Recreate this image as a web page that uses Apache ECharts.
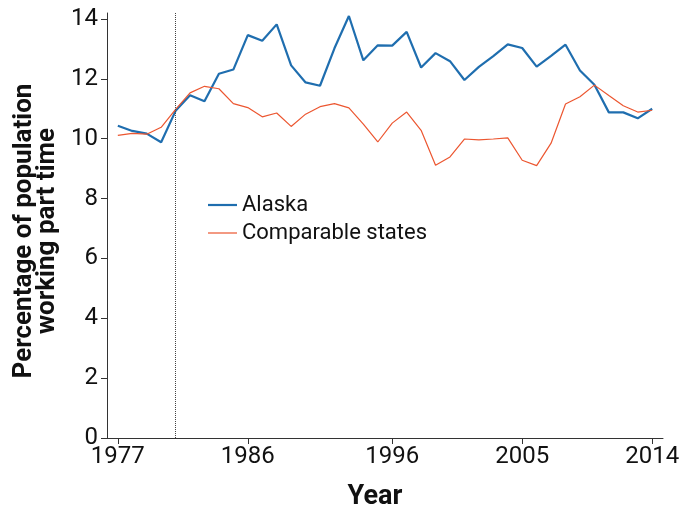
<!DOCTYPE html>
<html><head><meta charset="utf-8">
<script src="https://cdn.jsdelivr.net/npm/echarts@6/dist/echarts.min.js"></script>
<style>html,body{margin:0;padding:0;background:#fff}#c{width:680px;height:515px}</style>
</head><body><div id="c"></div>
<script>
const years = [];
for (let y = 1977; y <= 2014; y++) years.push(y);
const alaska = [10.43,10.26,10.17,9.88,10.93,11.45,11.25,12.17,12.31,13.46,13.27,13.82,12.45,11.88,11.77,13.02,14.10,12.62,13.12,13.11,13.57,12.38,12.86,12.59,11.96,12.40,12.76,13.15,13.03,12.41,12.77,13.14,12.28,11.80,10.88,10.88,10.68,11.00];
const comparable = [10.11,10.18,10.15,10.38,10.98,11.53,11.75,11.67,11.17,11.04,10.73,10.86,10.41,10.82,11.07,11.17,11.03,10.49,9.89,10.52,10.89,10.28,9.11,9.39,9.99,9.96,9.99,10.03,9.28,9.10,9.85,11.16,11.40,11.79,11.44,11.10,10.89,10.95];
const xTicks = [1977,1986,1996,2005,2014];
const yTicks = [0,2,4,6,8,10,12,14];
const markerYear = 1981;

const font = 'Roboto, "Open Sans", sans-serif';
const chart = echarts.init(document.getElementById('c'));
chart.setOption({
  animation: false,
  textStyle: {fontFamily: font},
  grid: {left: 107, top: 13, width: 556, height: 425, containLabel: false, outerBoundsMode: 'none'},
  legend: {
    orient: 'vertical', left: 203, top: 186, itemWidth: 29, itemHeight: 14, itemGap: 0,
    textStyle: {fontSize: 22, color: '#111', fontFamily: font, lineHeight: 28},
    data: [
      {name: 'Alaska', icon: 'path://M0,0H29V2.2H0Z'},
      {name: 'Comparable states', icon: 'path://M0,0H29V1.2H0Z'}
    ]
  },
  xAxis: {
    type: 'value', min: 1976.25, max: 2014.75,
    name: 'Year', nameLocation: 'middle', nameGap: 46,
    nameTextStyle: {fontSize: 27, fontWeight: 'bold', color: '#111', fontFamily: font, padding: [0, 20, 0, 0]},
    axisLine: {lineStyle: {color: '#333', width: 1}},
    axisTick: {show: true, customValues: xTicks, length: 6, lineStyle: {color: '#333'}},
    axisLabel: {customValues: xTicks, fontSize: 24, color: '#111', margin: 7, fontFamily: font, formatter: v => String(v)},
    splitLine: {show: false}
  },
  yAxis: {
    type: 'value', min: 0, max: 14.2,
    name: 'Percentage of population\nworking part time', nameLocation: 'middle', nameGap: 48, nameRotate: 90,
    nameTextStyle: {fontSize: 26, fontWeight: 'bold', color: '#111', lineHeight: 23, fontFamily: font, padding: [0, 11, 0, 0]},
    axisLine: {show: true, lineStyle: {color: '#333', width: 1}},
    axisTick: {show: true, customValues: yTicks, length: 6, lineStyle: {color: '#333'}},
    axisLabel: {customValues: yTicks, fontSize: 24, color: '#111', margin: 9, fontFamily: font},
    splitLine: {show: false}
  },
  series: [
    {
      name: 'Alaska', type: 'line', symbol: 'none',
      data: years.map((y, i) => [y, alaska[i]]),
      lineStyle: {color: '#1f6eaf', width: 2.2}, itemStyle: {color: '#1f6eaf'},
      markLine: {
        silent: true, symbol: 'none', label: {show: false},
        lineStyle: {color: '#444', type: 'dotted', width: 1},
        data: [{xAxis: markerYear}]
      }
    },
    {
      name: 'Comparable states', type: 'line', symbol: 'none',
      data: years.map((y, i) => [y, comparable[i]]),
      lineStyle: {color: '#ec5630', width: 1.2}, itemStyle: {color: '#ec5630'}
    }
  ]
});
</script></body></html>
